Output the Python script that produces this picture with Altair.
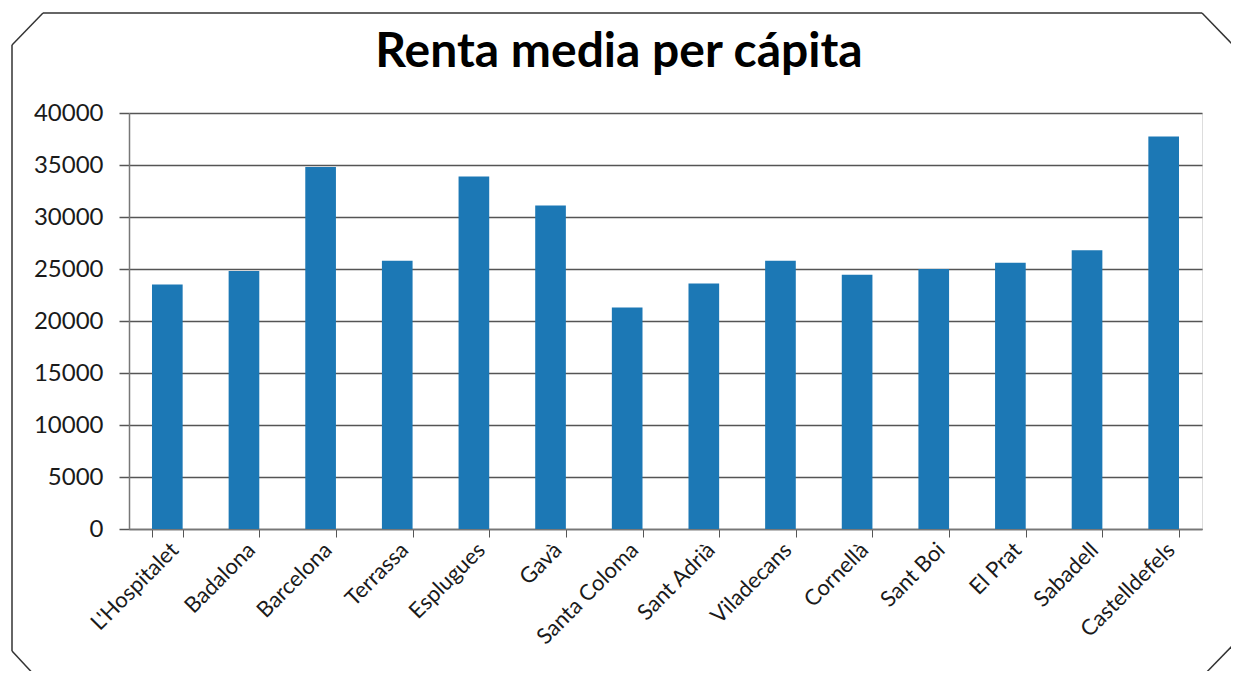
import altair as alt
import pandas as pd

municipios = ["L'Hospitalet", "Badalona", "Barcelona", "Terrassa", "Esplugues", "Gavà",
              "Santa Coloma", "Sant Adrià", "Viladecans", "Cornellà", "Sant Boi", "El Prat",
              "Sabadell", "Castelldefels"]
renta = [23500, 24800, 34800, 25800, 33900, 31100, 21300, 23600, 25800, 24450, 25000, 25600,
         26800, 37750]
y_ticks = [0, 5000, 10000, 15000, 20000, 25000, 30000, 35000, 40000]
titulo = "Renta media per cápita"

df = pd.DataFrame({"municipio": municipios, "renta": renta})

FONT = "Lato"
BAR = "#1c78b5"
GRID = "#555555"
FRAME = "#333333"
LABEL = "#1a1a1a"

bars = alt.Chart(df).mark_bar(color=BAR).encode(
    x=alt.X("municipio:N", sort=municipios, title=None,
            scale=alt.Scale(paddingInner=0.6, paddingOuter=0.3),
            axis=alt.Axis(labelAngle=-45, labelFont=FONT, labelFontSize=22, labelColor=LABEL,
                          tickBand="extent", ticks=True, tickSize=8, tickColor="#555555",
                          domainColor="#777777", domainWidth=1.5, labelPadding=2, grid=False)),
    y=alt.Y("renta:Q", title=None,
            scale=alt.Scale(domain=[0, 40000], nice=False),
            axis=alt.Axis(values=y_ticks, format="d", labelFont=FONT, labelFontSize=24,
                          labelColor=LABEL, tickSize=10, tickColor=GRID, tickWidth=1.5,
                          gridColor=GRID, gridWidth=1.5, gridOpacity=1,
                          domainColor="#777777", domainWidth=1.5, labelPadding=16)),
)

one = alt.Data(values=[{}])

title_mark = alt.Chart(one).mark_text(
    text=titulo, font=FONT, fontSize=48, fontWeight="bold", color="#000000",
    align="center", baseline="alphabetic",
).encode(x=alt.value(490), y=alt.value(-46))


def seg(x1, y1, x2, y2):
    return alt.Chart(one).mark_rule(color=FRAME, strokeWidth=1.5).encode(
        x=alt.value(x1), y=alt.value(y1), x2=alt.value(x2), y2=alt.value(y2))


frame = [
    seg(-86, -100, 1073, -100),
    seg(1073, -100, 1104, -68),
    seg(1104, -68, 1104, 532),
    seg(1104, 532, 1071, 566),
    seg(-91, 566, -117, 538),
    seg(-117, 538, -117, -68),
    seg(-117, -68, -86, -100),
]

chart = alt.layer(bars, title_mark, *frame).properties(
    width=1073, height=416,
    autosize=alt.AutoSizeParams(type="none"),
    padding={"left": 121, "top": 105, "right": 29, "bottom": 142},
).configure_view(stroke=None).configure(background="white")

chart.save("out.html", embed_options={"renderer": "svg", "actions": False})
